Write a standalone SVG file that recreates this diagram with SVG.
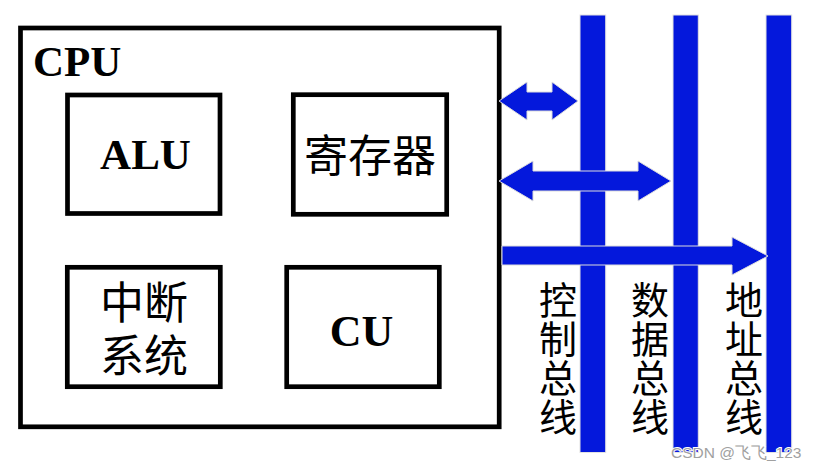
<svg xmlns="http://www.w3.org/2000/svg" width="815" height="471" viewBox="0 0 815 471">
<style>
.box{fill:#fff;stroke:#000;stroke-width:4.7}
.lat{font-family:"Liberation Serif","Times New Roman",serif;font-weight:bold;fill:#000}
.cjk{font-family:"Noto Sans CJK SC","Noto Sans CJK JP",sans-serif;fill:#000}
.vl{font-size:38px}
.bus{fill:#0418DC;stroke:#e2e2e2;stroke-width:1}
.arr{fill:#0418DC;stroke:#dcdcdc;stroke-width:1;stroke-linejoin:miter}
.wm{font-family:"Liberation Sans",Arial,sans-serif;font-size:15.5px;fill:#a0a0a0;stroke:#fff;stroke-width:2;paint-order:stroke}
</style>
<rect width="815" height="471" fill="#fff"/>
<g id="cpu">
<rect class="box" x="20.5" y="28" width="478.7" height="398.8"/>
<text class="lat" x="33" y="76" font-size="43">CPU</text>
</g>
<g id="alu">
<rect class="box" x="67.5" y="95" width="152.5" height="118.5"/>
<text class="lat" x="145.5" y="169" font-size="43" text-anchor="middle">ALU</text>
</g>
<g id="reg">
<rect class="box" x="293.3" y="94.7" width="153.4" height="119.6"/>
<text class="cjk" x="370" y="153" font-size="44" text-anchor="middle" dominant-baseline="central">寄存器</text>
</g>
<g id="intr">
<rect class="box" x="67.3" y="267.3" width="153" height="119.4"/>
<text class="cjk" x="144" y="300" font-size="44" text-anchor="middle" dominant-baseline="central">中断</text>
<text class="cjk" x="144" y="353" font-size="44" text-anchor="middle" dominant-baseline="central">系统</text>
</g>
<g id="cu">
<rect class="box" x="286.7" y="267.3" width="152.6" height="119.4"/>
<text class="lat" x="361.5" y="346" font-size="44" text-anchor="middle">CU</text>
</g>
<g id="ctrl-bus">
<rect class="bus" x="580" y="15" width="25.7" height="437.5"/>
<text class="cjk vl" text-anchor="middle" dominant-baseline="central"><tspan x="558" y="297.4">控</tspan><tspan x="558" y="336.2">制</tspan><tspan x="558" y="375">总</tspan><tspan x="558" y="413.8">线</tspan></text>
</g>
<g id="data-bus">
<rect class="bus" x="673" y="15" width="25.3" height="437.5"/>
<text class="cjk vl" text-anchor="middle" dominant-baseline="central"><tspan x="650" y="297.4">数</tspan><tspan x="650" y="336.2">据</tspan><tspan x="650" y="375">总</tspan><tspan x="650" y="413.8">线</tspan></text>
</g>
<g id="addr-bus">
<rect class="bus" x="766" y="15" width="25.7" height="437.5"/>
<text class="cjk vl" text-anchor="middle" dominant-baseline="central"><tspan x="744" y="297.4">地</tspan><tspan x="744" y="336.2">址</tspan><tspan x="744" y="375">总</tspan><tspan x="744" y="413.8">线</tspan></text>
</g>
<g id="connectors">
<polygon class="arr" points="499,101 527,82 527,92 552,92 552,82 578,101 552,120 552,111 527,111 527,120"/>
<polygon class="arr" points="499,181 533,161 533,171 638,171 638,161 671,181 638,201 638,191 533,191 533,201"/>
<polygon class="arr" points="502,246 732,246 732,237 768,256 732,275 732,265 502,265"/>
</g>
<text class="wm" x="671" y="458">CSDN @飞飞_123</text>
</svg>
